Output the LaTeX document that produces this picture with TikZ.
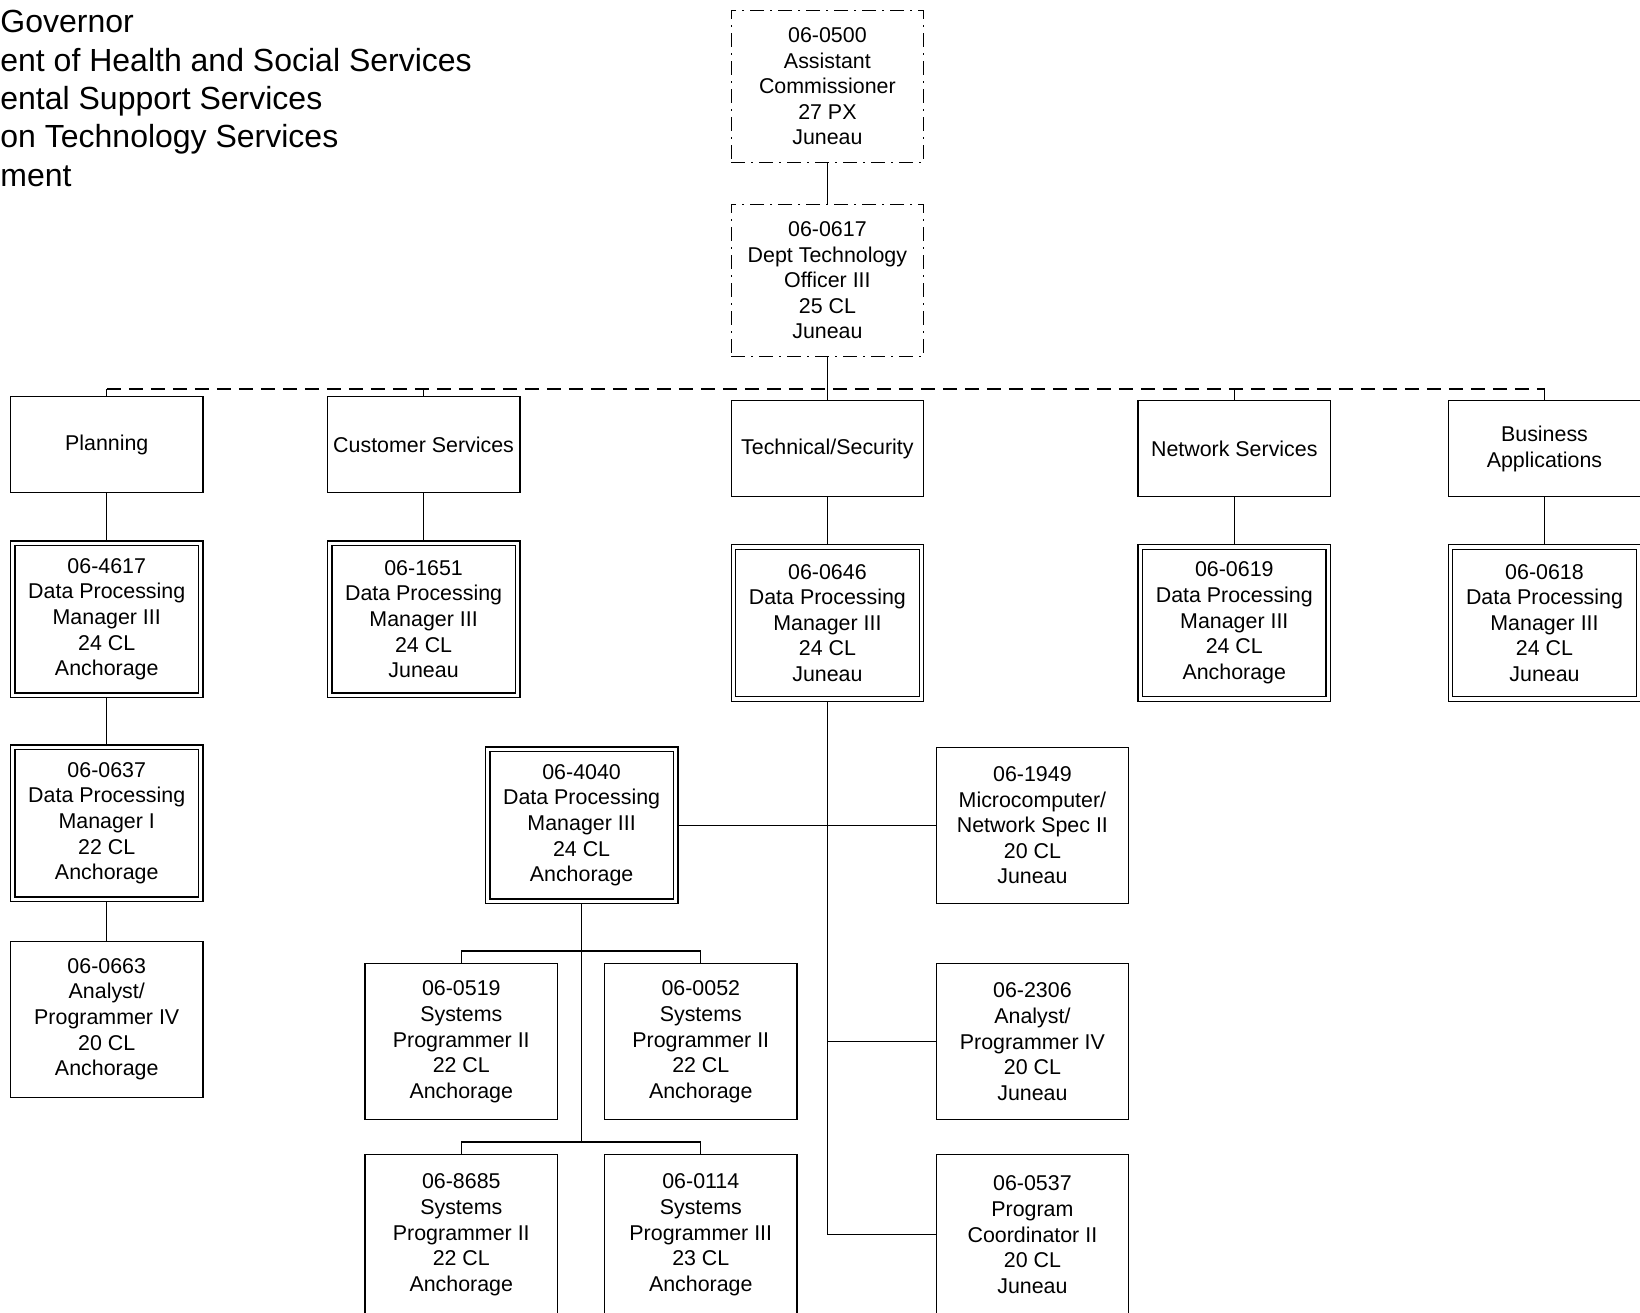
\documentclass[tikz,border=0pt]{standalone}
\usepackage{fontspec}
\setmainfont{Liberation Sans}
\usepackage{tikz}

\tikzset{
  posbox/.style={draw, line width=0.65pt, minimum width=96.25pt, minimum height=78pt,
    inner sep=0pt, align=center, font=\fontsize{10.7}{12.8}\selectfont},
  mgrbox/.style={posbox, double, double distance=1.6pt, minimum width=94pt,
    minimum height=76pt, outer sep=1.45pt},
  topbox/.style={posbox, minimum height=76pt, dash pattern=on 7pt off 3pt on 1pt off 3pt},
  unitbox/.style={posbox, minimum height=48pt},
  lowbox/.style={posbox, minimum height=80pt},
  hdr/.style={anchor=base west, inner sep=0pt, font=\fontsize{16}{19.2}\selectfont},
  link/.style={line width=0.65pt},
  buslink/.style={link, dash pattern=on 7pt off 4pt}
}

\begin{document}
\begin{tikzpicture}[x=0.5pt, y=-0.5pt]
    \useasboundingbox (0,0) rectangle (1640,1313);

    % Header
    \node[hdr] (hdr1) at (0,32.7) {Governor};
    \node[hdr] (hdr2) at (0,71.1) {ent of Health and Social Services};
    \node[hdr] (hdr3) at (0,109.5) {ental Support Services};
    \node[hdr] (hdr4) at (0,147.9) {on Technology Services};
    \node[hdr] (hdr5) at (0,186.3) {ment};

    % Top of chart
    \node[topbox] (ac) at (827.4,86.3) {06-0500\\Assistant\\Commissioner\\27 PX\\Juneau};
    \node[topbox] (dto) at (827.4,280.3) {06-0617\\Dept Technology\\Officer III\\25 CL\\Juneau};
    \coordinate (bus) at (827.4,389);

    % Units
    \node[unitbox] (plan) at (106.75,444.6) {Planning};
    \node[unitbox] (cust) at (423.6,444.6) {Customer Services};
    \node[unitbox] (tech) at (827.4,448.7) {Technical/Security};
    \node[unitbox] (net) at (1234.3,448.7) {Network Services};
    \node[unitbox] (bizapp) at (1544.5,448.7) {Business\\Applications};

    % Unit managers
    \node[mgrbox] (dpm4617) at (106.75,619.2) {06-4617\\Data Processing\\Manager III\\24 CL\\Anchorage};
    \node[mgrbox] (dpm1651) at (423.6,619.2) {06-1651\\Data Processing\\Manager III\\24 CL\\Juneau};
    \node[mgrbox] (dpm0646) at (827.4,622.9) {06-0646\\Data Processing\\Manager III\\24 CL\\Juneau};
    \node[mgrbox] (dpm0619) at (1234.3,622.9) {06-0619\\Data Processing\\Manager III\\24 CL\\Anchorage};
    \node[mgrbox] (dpm0618) at (1544.5,622.9) {06-0618\\Data Processing\\Manager III\\24 CL\\Juneau};

    % Planning staff
    \node[mgrbox] (dpm0637) at (106.75,823.2) {06-0637\\Data Processing\\Manager I\\22 CL\\Anchorage};
    \node[posbox] (ap0663) at (106.75,1019.3) {06-0663\\Analyst/\\Programmer IV\\20 CL\\Anchorage};

    % Technical/Security staff
    \node[mgrbox] (dpm4040) at (581.6,825.3) {06-4040\\Data Processing\\Manager III\\24 CL\\Anchorage};
    \node[posbox] (mc1949) at (1032.4,825.3) {06-1949\\Microcomputer/\\Network Spec II\\20 CL\\Juneau};
    \node[posbox] (ap2306) at (1032.4,1041.8) {06-2306\\Analyst/\\Programmer IV\\20 CL\\Juneau};
    \node[lowbox] (pc0537) at (1032.4,1234.8) {06-0537\\Program\\Coordinator II\\20 CL\\Juneau};
    \node[posbox] (sp0519) at (461.3,1041.8) {06-0519\\Systems\\Programmer II\\22 CL\\Anchorage};
    \node[posbox] (sp0052) at (700.8,1041.8) {06-0052\\Systems\\Programmer II\\22 CL\\Anchorage};
    \node[lowbox] (sp8685) at (461.3,1234.8) {06-8685\\Systems\\Programmer II\\22 CL\\Anchorage};
    \node[lowbox] (sp0114) at (700.8,1234.8) {06-0114\\Systems\\Programmer III\\23 CL\\Anchorage};
    \coordinate (fork1) at (581.6,951);
    \coordinate (fork2) at (581.6,1142);

    % Lines
    \draw[link] (ac) -- (dto);
    \draw[link] (dto) -- (tech);
    \draw[buslink] (plan.north |- bus) -- (bizapp.north |- bus);
    \draw[link] (plan.north |- bus) -- (plan.north);
    \draw[link] (cust.north |- bus) -- (cust.north);
    \draw[link] (net.north |- bus) -- (net.north);
    \draw[link] (bizapp.north |- bus) -- (bizapp.north);
    \draw[link] (plan) -- (dpm4617);
    \draw[link] (cust) -- (dpm1651);
    \draw[link] (tech) -- (dpm0646);
    \draw[link] (net) -- (dpm0619);
    \draw[link] (bizapp) -- (dpm0618);
    \draw[link] (dpm4617) -- (dpm0637);
    \draw[link] (dpm0637) -- (ap0663);
    \draw[link] (dpm0646.south) |- (pc0537.west);
    \draw[link] (dpm4040.east) -- (mc1949.west);
    \draw[link] (dpm0646.south |- ap2306.west) -- (ap2306.west);
    \draw[link] (dpm4040.south) -- (fork2);
    \draw[link] (sp0519.north) |- (fork1) -| (sp0052.north);
    \draw[link] (sp8685.north) |- (fork2) -| (sp0114.north);
\end{tikzpicture}
\end{document}
